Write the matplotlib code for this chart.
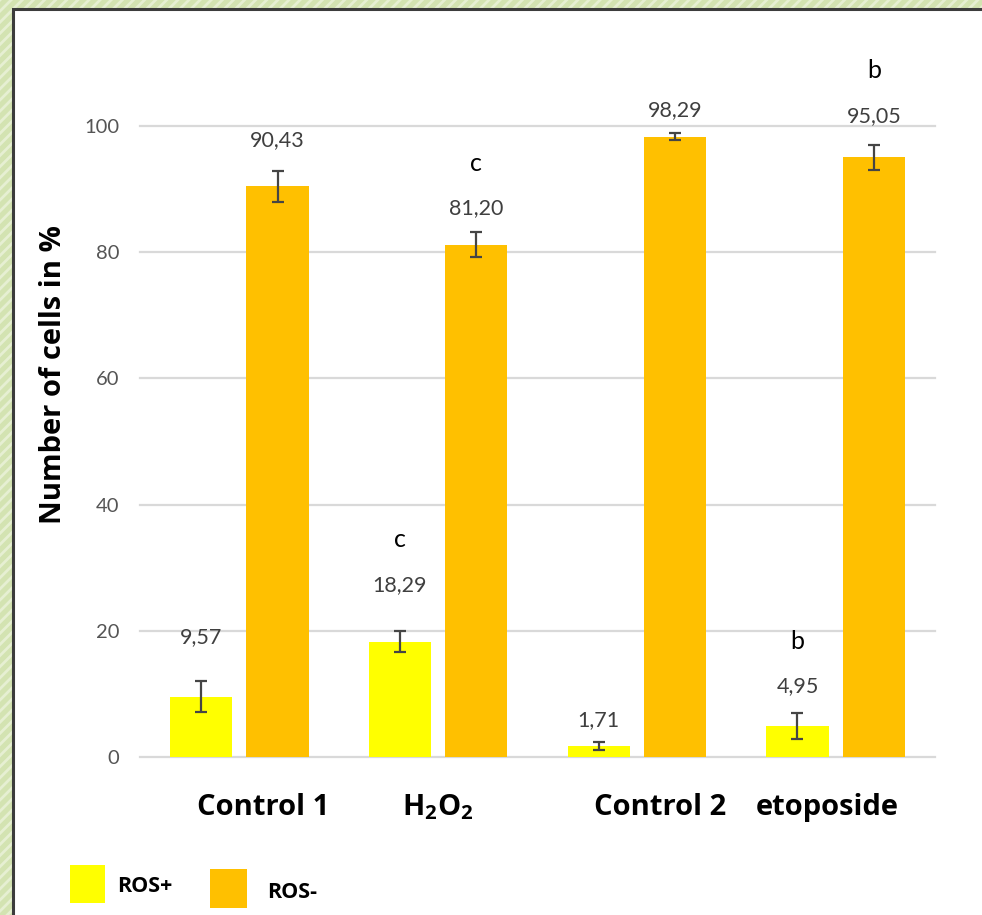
import numpy as np
import matplotlib
matplotlib.use('Agg')
import matplotlib.pyplot as plt
from matplotlib.patches import Rectangle
from matplotlib.transforms import blended_transform_factory

# data
groups = ['Control 1', r'$\mathrm{H_2O_2}$', 'Control 2', 'etoposide']
series = ['ROS+', 'ROS-']
ros_pos = [9.57, 18.29, 1.71, 4.95]
ros_neg = [90.43, 81.20, 98.29, 95.05]
err_pos = [2.5, 1.7, 0.6, 2.1]
err_neg = [2.5, 2.0, 0.55, 2.0]
sig_pos = ['', 'c', '', 'b']
sig_neg = ['', 'c', '', 'b']

# label placement (pixels above error bar top) and name shifts
lift_pos = [44, 46, 22, 26]
lift_neg = [31, 24, 23, 29]
name_shift = [0.12, 0.0, 0.115, -0.04]

colors = ['#FFFF00', '#FFC000']
W, H = 982, 915

plt.rcParams['mathtext.fontset'] = 'custom'
plt.rcParams['mathtext.rm'] = 'Open Sans:bold'
plt.rcParams['mathtext.it'] = 'Open Sans:bold'
plt.rcParams['mathtext.bf'] = 'Open Sans:bold'
plt.rcParams['hatch.linewidth'] = 2.0
plt.rcParams['hatch.color'] = '#e6efd2'

fig = plt.figure(figsize=(W / 100, H / 100), dpi=100)

def fx(px):
    return px / W

def fy(py):
    return 1 - py / H

# green striped frame and white panel
fig.add_artist(Rectangle((0, 0), 1, 1, transform=fig.transFigure,
                         facecolor='#d3e3b1', edgecolor='#e6efd2', hatch='///', lw=0, zorder=-10))
fig.add_artist(Rectangle((fx(13), -0.05), 1.1, fy(9) + 0.05, transform=fig.transFigure,
                         facecolor='white', edgecolor='#3c3c3c', lw=2.2, zorder=-9))

ax = fig.add_axes([fx(140), fy(757), fx(935) - fx(140), fy(126) - fy(757)])
ax.set_facecolor('none')

x = np.arange(len(groups))
w = 0.313
off = 0.192
ax.bar(x - off, ros_pos, w, color=colors[0], zorder=2)
ax.bar(x + off, ros_neg, w, color=colors[1], zorder=2)
ax.errorbar(x - off, ros_pos, yerr=err_pos, fmt='none', ecolor='#454545',
            elinewidth=1.6, capsize=4, capthick=1.6, zorder=3)
ax.errorbar(x + off, ros_neg, yerr=err_neg, fmt='none', ecolor='#454545',
            elinewidth=1.6, capsize=4, capthick=1.6, zorder=3)

for xs, vals, errs, lifts, sigs in [(x - off, ros_pos, err_pos, lift_pos, sig_pos),
                                     (x + off, ros_neg, err_neg, lift_neg, sig_neg)]:
    for xi, v, e, lp, s in zip(xs, vals, errs, lifts, sigs):
        ax.annotate(f'{v:.2f}'.replace('.', ','), xy=(xi, v + e), xytext=(0, lp * 0.72),
                    textcoords='offset points', ha='center', va='center',
                    fontsize=15.5, color='#3f3f3f', family='Lato')
        if s:
            ax.annotate(s, xy=(xi, v + e), xytext=(0, (lp + 45) * 0.72),
                        textcoords='offset points', ha='center', va='center',
                        fontsize=18, color='black', family='Lato')

ax.set_xlim(-0.5, 3.5)
ax.set_ylim(0, 100)
ax.set_yticks(range(0, 101, 20))
ax.set_xticks([])
ax.tick_params(axis='y', length=0, pad=15, labelsize=14.5, labelcolor='#555555')
for lab in ax.get_yticklabels():
    lab.set_family('Lato')
for sp in ax.spines.values():
    sp.set_visible(False)
ax.yaxis.grid(True, color='#d9d9d9', lw=1.6, zorder=0)
ax.set_axisbelow(True)
for gl in ax.get_ygridlines():
    gl.set_clip_on(False)

# group names under the bars
trans = blended_transform_factory(ax.transData, fig.transFigure)
for xi, name, sh in zip(x, groups, name_shift):
    ax.text(xi + sh, fy(815), name, transform=trans, ha='center', va='baseline',
            fontsize=21, fontweight='bold', family='Open Sans', color='black')

fig.text(fx(54), fy(375), 'Number of cells in %', rotation=90, ha='center', va='center',
         fontsize=21, fontweight='bold', family='Open Sans', color='black')

# legend
fig.add_artist(Rectangle((fx(70), fy(903)), fx(35), 38 / H, transform=fig.transFigure,
                         facecolor=colors[0], lw=0))
fig.text(fx(117), fy(887), series[0], ha='left', va='center', fontsize=15.5,
         fontweight='bold', family='Open Sans', color='black')
fig.add_artist(Rectangle((fx(210), fy(908)), fx(37), 39 / H, transform=fig.transFigure,
                         facecolor=colors[1], lw=0))
fig.text(fx(267), fy(892), series[1], ha='left', va='center', fontsize=15.5,
         fontweight='bold', family='Open Sans', color='black')

fig.savefig('out.png', dpi=100)
